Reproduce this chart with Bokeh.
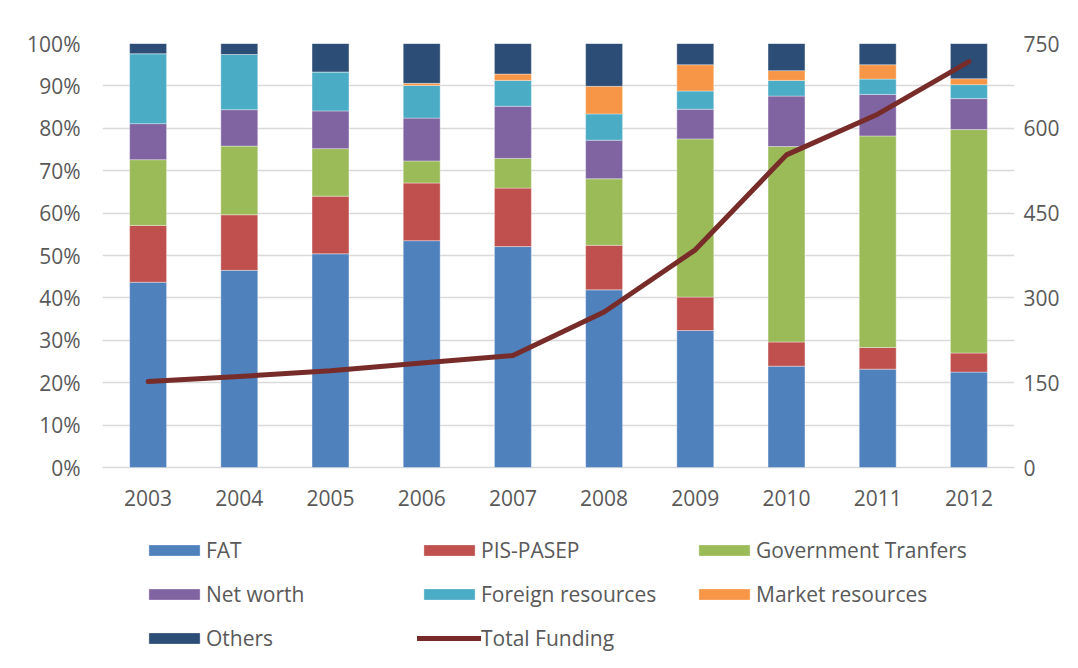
from bokeh.plotting import figure
from bokeh.models import (FactorRange, Range1d, LinearAxis, FixedTicker, NumeralTickFormatter,
                          Legend, LegendItem, ColumnDataSource)
from bokeh.core.properties import value
from bokeh.embed import file_html
from bokeh.resources import INLINE

years = ["2003", "2004", "2005", "2006", "2007", "2008", "2009", "2010", "2011", "2012"]
fat = [43.7, 46.5, 50.4, 53.5, 52.1, 41.9, 32.3, 23.9, 23.2, 22.5]
pis_pasep = [13.4, 13.1, 13.6, 13.6, 13.8, 10.5, 7.9, 5.7, 5.1, 4.5]
gov_transfers = [15.5, 16.2, 11.2, 5.2, 7.0, 15.7, 37.3, 46.1, 49.9, 52.7]
net_worth = [8.5, 8.6, 8.9, 10.1, 12.3, 9.1, 7.0, 11.9, 9.8, 7.3]
foreign_res = [16.5, 13.0, 9.2, 7.7, 6.1, 6.2, 4.3, 3.7, 3.6, 3.3]
market_res = [0.0, 0.0, 0.0, 0.5, 1.5, 6.5, 6.2, 2.3, 3.4, 1.4]
others = [2.4, 2.6, 6.7, 9.4, 7.2, 10.1, 5.0, 6.4, 5.0, 8.3]
total_funding = [152, 161, 171, 185, 198, 275, 385, 553, 625, 718]

series_names = ["FAT", "PIS-PASEP", "Government Tranfers", "Net worth",
                "Foreign resources", "Market resources", "Others"]
series_vals = [fat, pis_pasep, gov_transfers, net_worth, foreign_res, market_res, others]
colors = ["#4F81BD", "#C0504D", "#9BBB59", "#8064A2", "#4BACC6", "#F79646", "#2C4D75"]
line_color = "#772C2A"

FONT = "Open Sans"
FS = "21px"
TXT = "#595959"
GRID = "#D9D9D9"

# layout (pixels)
W, H = 1062, 652
TOP, LEFT, RIGHT = 43, 102, 46
BAR_AREA = 424            # pixel height of 0..100%
below = H - TOP - BAR_AREA  # room under the bars for year labels and legend
ext = below / BAR_AREA
label_y = -30.0 / BAR_AREA

data = {"year": years, "total": total_funding}
keys = []
for i, vals in enumerate(series_vals):
    k = "s%d" % i
    keys.append(k)
    data[k] = [v / 100.0 for v in vals]
src = ColumnDataSource(data)

p = figure(x_range=FactorRange(*years), y_range=Range1d(-ext, 1),
           width=W, height=H, output_backend="svg", toolbar_location=None,
           x_axis_location=None,
           min_border_left=LEFT, min_border_right=RIGHT, min_border_top=TOP, min_border_bottom=0)
p.outline_line_color = None
p.background_fill_color = "white"
p.border_fill_color = "white"

p.extra_y_ranges = {"tot": Range1d(-ext * 750, 750)}

renderers = p.vbar_stack(keys, x="year", width=0.405, source=src, color=colors,
                         line_color="white", line_alpha=0.6, line_width=0.6)
line_r = p.line("year", "total", source=src, y_range_name="tot", color=line_color,
                line_width=5, line_cap="round", line_join="round")

# year labels under the bars
p.text(x=years, y=[label_y] * len(years), text=years, text_align="center",
       text_baseline="middle", text_font=value(FONT), text_font_size=FS, text_color=TXT)

# left axis
ya = p.yaxis[0]
ya.ticker = FixedTicker(ticks=[i / 10 for i in range(11)])
ya.formatter = NumeralTickFormatter(format="0%")
ya.axis_line_color = None
ya.major_tick_line_color = None
ya.minor_tick_line_color = None
ya.major_label_standoff = 16
ya.major_label_text_font = FONT
ya.major_label_text_font_size = FS
ya.major_label_text_color = TXT

# right axis
ra = LinearAxis(y_range_name="tot", ticker=FixedTicker(ticks=[0, 150, 300, 450, 600, 750]))
ra.axis_line_color = None
ra.major_tick_line_color = None
ra.minor_tick_line_color = None
ra.major_label_standoff = 3
ra.major_label_text_font = FONT
ra.major_label_text_font_size = FS
ra.major_label_text_color = TXT
p.add_layout(ra, "right")

p.xgrid.grid_line_color = None
p.ygrid.grid_line_color = GRID
p.ygrid.grid_line_width = 1.5
p.ygrid.ticker = FixedTicker(ticks=[i / 10 for i in range(11)])

items = [LegendItem(label=n, renderers=[r]) for n, r in zip(series_names, renderers)]
items.append(LegendItem(label="Total Funding", renderers=[line_r]))
legend = Legend(items=items, location=(40, 0), orientation="horizontal", ncols=3,
                glyph_width=64, glyph_height=14, label_width=195, label_height=20,
                label_standoff=0, spacing=16, padding=0, margin=0,
                border_line_color=None, background_fill_alpha=0,
                label_text_font=FONT, label_text_font_size=FS, label_text_color=TXT)
p.add_layout(legend, "center")

open("out.html", "w").write(file_html(p, INLINE))
